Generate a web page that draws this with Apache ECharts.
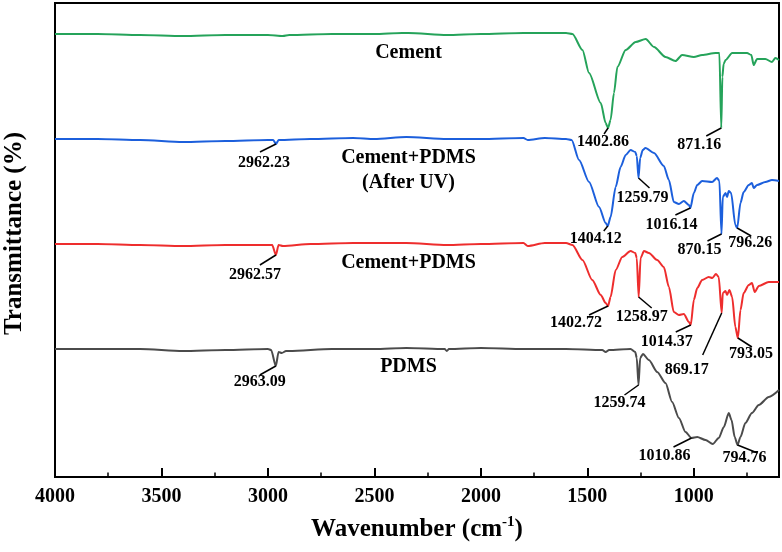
<!DOCTYPE html>
<html><head><meta charset="utf-8">
<script src="https://cdn.jsdelivr.net/npm/echarts@6/dist/echarts.min.js"></script>
<style>html,body{margin:0;padding:0;background:#fff}#c{width:782px;height:552px}</style>
</head><body><div id="c"></div>
<script>
// ---- data: [wavenumber (cm-1), transmittance (arb. offset units)] ----
const seriesNames = ['Cement', 'Cement+PDMS\n(After UV)', 'Cement+PDMS', 'PDMS'];

const cementData = [[4000,44.3],[3800,44.3],[3600,44.2],[3400,44.1],[3200,44.2],[3000,44.2],[2930,44.1],[2900,44.2],[2700,44.3],[2500,44.3],[2370,44.4],[2340,44.4],[2160,44.2],[2000,44.3],[1800,44.4],[1700,44.4],[1600,44.4],[1570,44.3],[1523,42.7],[1492,40.4],[1437,37.4],[1414,35.4],[1402.86,34.9],[1391,35.7],[1375,38.4],[1359,41.0],[1320,42.7],[1273,43.5],[1226,43.8],[1187,43.0],[1133,42.0],[1086,41.6],[1055,42.2],[1000,42.0],[961,42.2],[898,42.4],[880,42.4],[871.16,34.9],[866,40.0],[860,41.3],[851,41.7],[820,42.4],[750,42.4],[730,42.2],[719,41.2],[703,41.8],[664,41.8],[633,41.5],[617,41.9],[600,41.7]];

const afterUVData = [[4000,33.8],[3800,33.8],[3600,33.7],[3400,33.5],[3200,33.6],[3000,33.7],[2975,33.7],[2962.23,33.3],[2950,33.7],[2800,33.8],[2600,33.9],[2500,33.8],[2350,34.0],[2160,33.8],[2000,33.8],[1800,33.9],[1780,33.7],[1700,33.9],[1600,33.8],[1574,33.7],[1539,31.7],[1492,29.5],[1445,27.0],[1414,25.4],[1404.12,25.1],[1391,26.0],[1367,29.0],[1344,31.0],[1320,32.2],[1297,32.7],[1275,32.5],[1268,32.1],[1259.79,29.9],[1252,31.9],[1240,32.7],[1227,32.9],[1187,32.4],[1141,31.1],[1117,29.7],[1094,27.5],[1070,27.3],[1047,27.6],[1023,27.2],[1016.14,26.9],[1000,28.4],[984,29.2],[961,29.6],[914,29.5],[891,29.9],[880,29.6],[870.15,24.3],[864,28.0],[851,28.4],[844,28.0],[836,28.6],[825,28.4],[805,25.2],[796.26,24.9],[781,27.4],[766,28.5],[742,29.2],[727,29.4],[719,28.9],[703,29.2],[664,29.5],[633,29.7],[600,29.6]];

const cementPdmsData = [[4000,23.3],[3800,23.3],[3600,23.2],[3400,23.1],[3200,23.2],[3000,23.2],[2980,23.2],[2962.57,22.2],[2950,23.2],[2930,23.1],[2800,23.3],[2600,23.4],[2350,23.4],[2160,23.2],[2000,23.3],[1800,23.4],[1780,23.1],[1700,23.4],[1600,23.4],[1570,23.2],[1523,21.7],[1477,19.7],[1437,18.2],[1414,17.4],[1402.72,17.1],[1391,18.0],[1367,20.7],[1336,22.0],[1297,22.6],[1275,22.4],[1268,21.9],[1258.97,18.0],[1250,21.9],[1234,22.6],[1211,22.4],[1172,21.7],[1141,21.0],[1117,19.0],[1094,16.5],[1070,16.2],[1047,16.3],[1023,15.5],[1014.37,15.2],[1000,17.7],[984,18.9],[961,19.7],[930,20.0],[913,19.9],[896,20.3],[883,20.0],[869.17,16.4],[864,18.4],[851,18.6],[844,18.2],[833,18.7],[820,18.0],[805,15.0],[793.05,13.9],[781,16.7],[766,18.4],[742,19.2],[727,19.4],[714,18.5],[695,19.1],[648,19.5],[600,19.5]];

const pdmsData = [[4000,12.8],[3800,12.8],[3600,12.8],[3400,12.6],[3200,12.7],[3000,12.8],[2985,12.7],[2963.09,11.1],[2950,12.5],[2935,12.4],[2915,12.6],[2900,12.6],[2700,12.8],[2500,12.8],[2350,12.9],[2170,12.8],[2160,12.6],[2150,12.8],[2000,12.9],[1800,12.8],[1600,12.8],[1430,12.7],[1414,12.5],[1398,12.7],[1297,12.8],[1275,12.5],[1268,11.9],[1259.74,9.2],[1252,11.9],[1239,12.3],[1211,11.7],[1172,10.5],[1133,9.4],[1102,7.5],[1070,5.9],[1039,4.5],[1010.86,3.9],[984,4.0],[945,3.7],[911,3.3],[883,3.9],[859,5.0],[836,6.4],[823,5.7],[808,4.0],[794.76,3.2],[781,4.0],[758,5.4],[727,6.4],[695,7.2],[648,8.0],[600,8.7]];

const xMajorTicks = [4000,3500,3000,2500,2000,1500,1000];
const xMinorTicks = [3750,3250,2750,2250,1750,1250,750];

// peak annotations: [series index, wavenumber, label]
const peakSeries = [0,0, 1,1,1,1,1,1, 2,2,2,2,2,2, 3,3,3,3];
const peakWave = [1402.86,871.16, 2962.23,1404.12,1259.79,1016.14,870.15,796.26, 2962.57,1402.72,1258.97,1014.37,869.17,793.05, 2963.09,1259.74,1010.86,794.76];
const peakLabels = ['1402.86','871.16','2962.23','1404.12','1259.79','1016.14','870.15','796.26','2962.57','1402.72','1258.97','1014.37','869.17','793.05','2963.09','1259.74','1010.86','794.76'];

// ---- layout (pixel offsets from peak: leader end dx,dy ; text centre dx,dy) ----
const peakLayout = [[-4,6,-5,14],[-15,8,-22,17],
  [-16,8,-12,19],[-4,5,-12,13],[11,10,4,20],[-15,7,-19,17],[-14,7,-22,16],[14,8,13,15],
  [-16,10,-21,20],[-19,9,-32,17],[13,11,3,20],[-15,7,-24,17],[-19,42,-35,57],[14,9,13,16],
  [-16,9,-16,16],[-14,10,-19,18],[-18,9,-27,18],[20,8,7,13]];
const nameAnchors = [[2340,42.4],[2340,30.65],[2340,21.4],[2340,11.0]];
const colors = ['#25a35a','#1c5fdc','#ee2d2d','#4b4b4b'];
const FONT = '"Liberation Serif","Times New Roman",serif';

const allData = [cementData, afterUVData, cementPdmsData, pdmsData];
const chart = echarts.init(document.getElementById('c'), null, {renderer:'canvas'});

const option = {
  animation: false,
  backgroundColor: '#fff',
  grid: {left:55, right:3, top:3, bottom:75, show:true, borderColor:'#000', borderWidth:2, backgroundColor:'transparent', containLabel:false, outerBoundsMode:'none'},
  xAxis: [{
    type:'value', min:600, max:4000, inverse:true, position:'bottom',
    axisLine:{show:true, onZero:false, lineStyle:{color:'#000', width:2}},
    axisTick:{show:true, inside:true, length:9, customValues:xMajorTicks, lineStyle:{color:'#000', width:2}},
    axisLabel:{show:true, customValues:xMajorTicks, formatter:(v)=>String(v), margin:10, fontFamily:FONT, fontWeight:'bold', fontSize:20, color:'#000'},
    splitLine:{show:false},
    name:'{a|Wavenumber (cm}{s|-1}{a|)}', nameLocation:'middle', nameGap:38,
    nameTextStyle:{fontFamily:FONT, fontWeight:'bold', fontSize:25, color:'#000',
      rich:{a:{fontFamily:FONT, fontWeight:'bold', fontSize:25, color:'#000', lineHeight:30},
            s:{fontFamily:FONT, fontWeight:'bold', fontSize:15, color:'#000', verticalAlign:'top'}}}
  },{
    type:'value', min:600, max:4000, inverse:true, position:'bottom',
    axisLine:{show:false},
    axisTick:{show:true, inside:true, length:4.5, customValues:xMinorTicks, lineStyle:{color:'#000', width:1.5}},
    axisLabel:{show:false}, splitLine:{show:false}
  }],
  yAxis: {
    type:'value', min:0, max:47.4,
    axisLine:{show:true, lineStyle:{color:'#000', width:2}},
    axisTick:{show:false}, axisLabel:{show:false}, splitLine:{show:false},
    name:'Transmittance (%)', nameLocation:'middle', nameGap:28,
    nameTextStyle:{fontFamily:FONT, fontWeight:'bold', fontSize:25, color:'#000', padding:[0,0,0,13]}
  },
  series: allData.map((d,i)=>({
    type:'line', name:seriesNames[i], data:d, xAxisIndex:0, yAxisIndex:0,
    showSymbol:false, symbol:'none', smooth:0.25, smoothMonotone:'x',
    lineStyle:{color:colors[i], width:2}, itemStyle:{color:colors[i]}, z:3
  }))
};
chart.setOption(option);

const els = [];
peakWave.forEach((w,i)=>{
  const s = peakSeries[i];
  const pt = allData[s].find(p=>p[0]===w);
  const P = chart.convertToPixel({seriesIndex:s}, pt);
  const L = peakLayout[i];
  els.push({type:'line', z:10, shape:{x1:P[0], y1:P[1], x2:P[0]+L[0], y2:P[1]+L[1]}, style:{stroke:'#000', lineWidth:1.5}});
  els.push({type:'text', z:10, x:P[0]+L[2], y:P[1]+L[3], style:{text:peakLabels[i], fontFamily:FONT, fontWeight:'bold', fontSize:16, fill:'#000', align:'center', verticalAlign:'middle'}});
});
nameAnchors.forEach((a,i)=>{
  const P = chart.convertToPixel({seriesIndex:i}, a);
  els.push({type:'text', z:10, x:P[0], y:P[1], style:{text:seriesNames[i], fontFamily:FONT, fontWeight:'bold', fontSize:20, lineHeight:25, fill:'#000', align:'center', verticalAlign:'middle'}});
});
chart.setOption({graphic:{elements:els}});
</script>
</body></html>
